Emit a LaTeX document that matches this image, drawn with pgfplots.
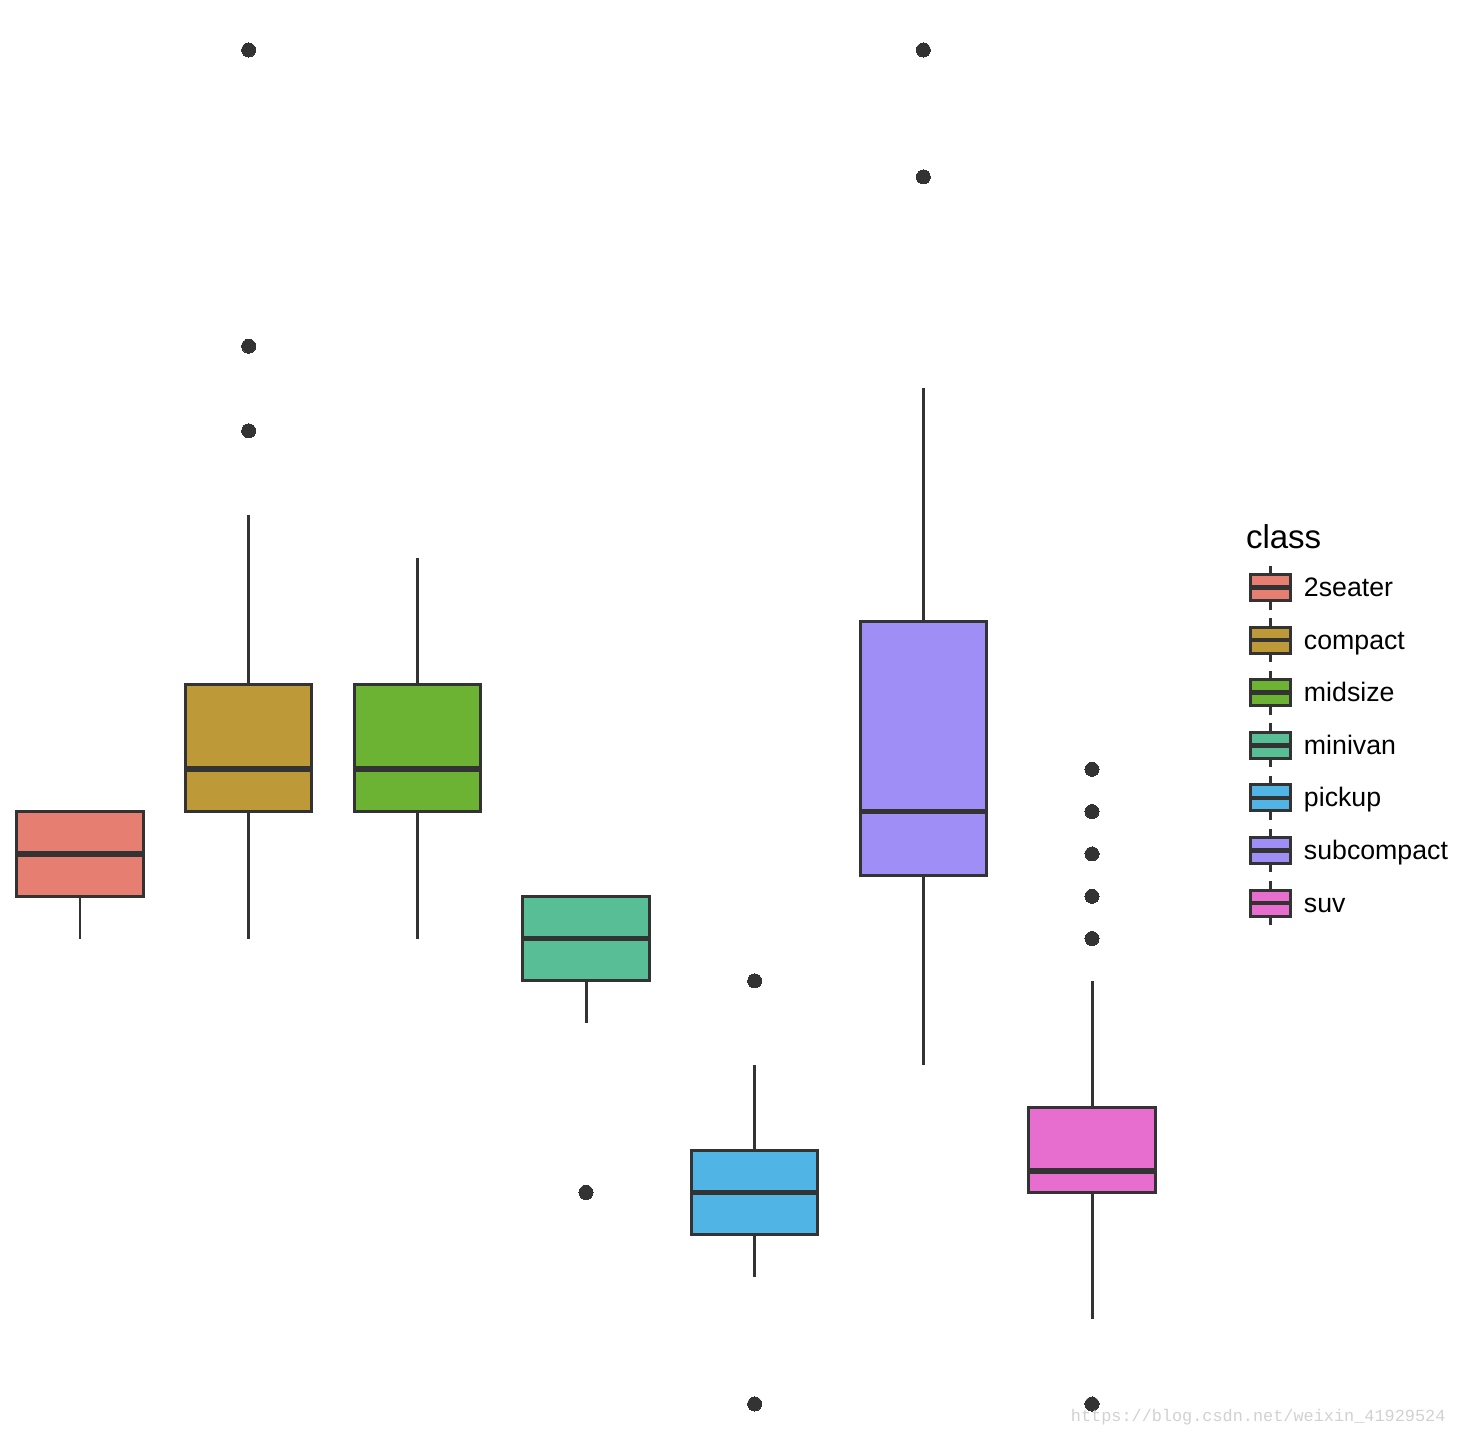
\documentclass[border=0pt]{standalone}
\usepackage{pgfplots}
\pgfplotsset{compat=1.18}
\usepgfplotslibrary{statistics}
\usepackage{fontspec}
\setmainfont{Liberation Sans}
\setmonofont{Liberation Mono}
\definecolor{c1}{HTML}{E77E72}
\definecolor{c2}{HTML}{BD9A37}
\definecolor{c3}{HTML}{6CB233}
\definecolor{c4}{HTML}{57BE96}
\definecolor{c5}{HTML}{50B5E5}
\definecolor{c6}{HTML}{A08EF7}
\definecolor{c7}{HTML}{E76ECF}
\definecolor{edge}{HTML}{333333}
\begin{document}
\begin{tikzpicture}
\useasboundingbox (0,0) rectangle (14.58cm,14.38cm);
\begin{axis}[at={(0,0)}, anchor=south west, scale only axis,
  width=14.58cm, height=14.38cm, hide axis, clip=false,
  xmin=0.5257, xmax=9.170, ymin=11.196, ymax=45.182,
  boxplot/draw direction=y,
  boxplot/box extend=0.75, boxplot/whisker extend=0,
  boxplot/every median/.style={line width=1.6pt},
  every axis plot/.append style={draw=edge, line width=0.85pt, mark=*, mark size=2pt,
    mark options={fill=edge, draw=edge, solid, line width=0pt}},
]
\addplot[boxplot prepared={draw position=1, lower whisker=23, lower quartile=24, median=25, upper quartile=26, upper whisker=26}, fill=c1] coordinates {};
\addplot[boxplot prepared={draw position=2, lower whisker=23, lower quartile=26, median=27, upper quartile=29, upper whisker=33}, fill=c2] table[row sep=\\, y index=0] {y\\ 44\\ 37\\ 35\\};
\addplot[boxplot prepared={draw position=3, lower whisker=23, lower quartile=26, median=27, upper quartile=29, upper whisker=32}, fill=c3] coordinates {};
\addplot[boxplot prepared={draw position=4, lower whisker=21, lower quartile=22, median=23, upper quartile=24, upper whisker=24}, fill=c4] table[row sep=\\, y index=0] {y\\ 17\\};
\addplot[boxplot prepared={draw position=5, lower whisker=15, lower quartile=16, median=17, upper quartile=18, upper whisker=20}, fill=c5] table[row sep=\\, y index=0] {y\\ 22\\ 12\\};
\addplot[boxplot prepared={draw position=6, lower whisker=20, lower quartile=24.5, median=26, upper quartile=30.5, upper whisker=36}, fill=c6] table[row sep=\\, y index=0] {y\\ 44\\ 41\\};
\addplot[boxplot prepared={draw position=7, lower whisker=14, lower quartile=17, median=17.5, upper quartile=19, upper whisker=22}, fill=c7] table[row sep=\\, y index=0] {y\\ 27\\ 26\\ 25\\ 24\\ 23\\ 12\\};
\end{axis}
\begin{scope}[x=0.01cm, y=-0.01cm, shift={(0,14.38cm)}]
\node[anchor=base west, inner sep=0pt, font=\fontsize{9.4}{11}\selectfont] at (1246,549) {class};
\foreach \c/\lab [count=\i from 0] in {c1/2seater, c2/compact, c3/midsize, c4/minivan, c5/pickup, c6/subcompact, c7/suv} {
  \pgfmathsetmacro{\yc}{588+52.6*\i}
  \draw[edge, line width=0.85pt] (1271,\yc-22) -- (1271,\yc+22);
  \draw[edge, line width=0.85pt, fill=\c] (1251,\yc-13) rectangle (1291,\yc+13);
  \draw[edge, line width=1.3pt] (1251,\yc) -- (1291,\yc);
  \node[anchor=base west, inner sep=0pt, font=\fontsize{7.6}{9}\selectfont] at (1304,\yc+9) {\lab};
}
\node[anchor=east, inner sep=0pt, text=black!18, font=\ttfamily\fontsize{4.8}{6}\selectfont] at (1447,1418) {https://blog.csdn.net/weixin\_41929524};
\end{scope}
\end{tikzpicture}
\end{document}
